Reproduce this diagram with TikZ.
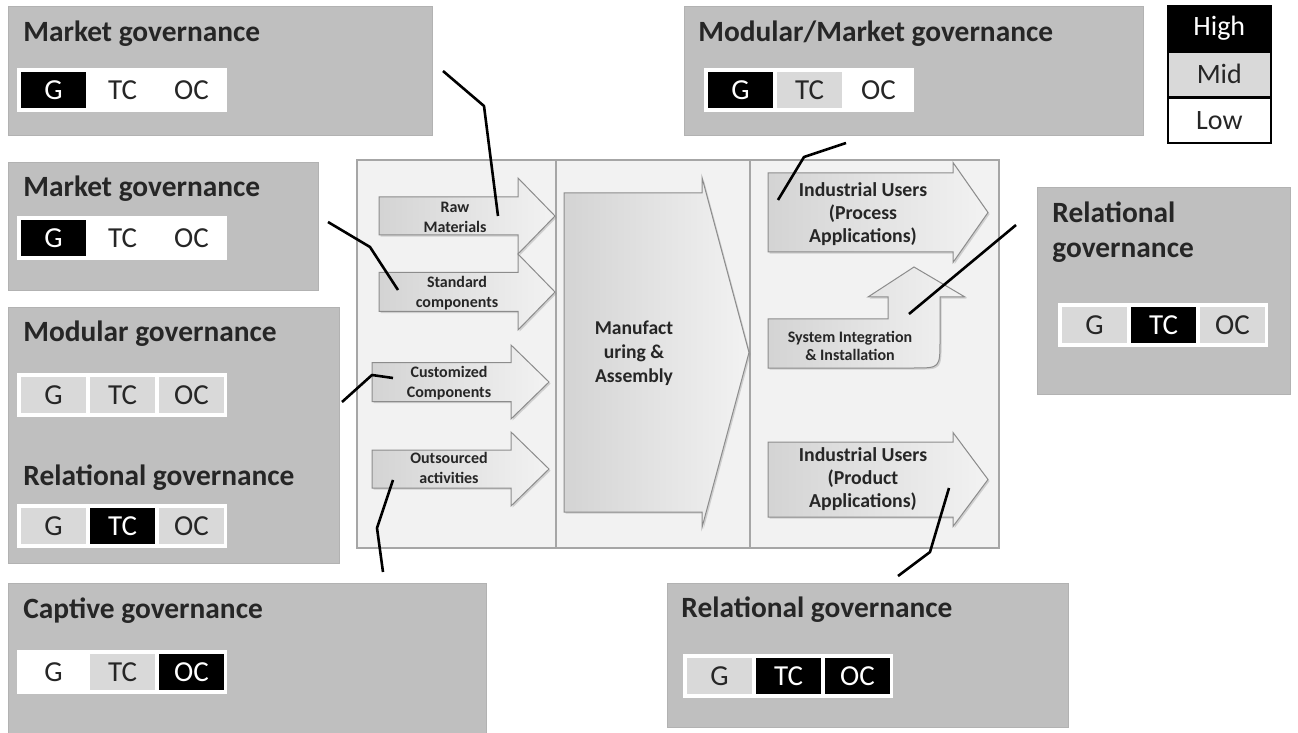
\documentclass[tikz,border=0pt]{standalone}
\usepackage{fontspec}
\setmainfont{Carlito}
\usepackage{tikz}
\usetikzlibrary{positioning, shadows}

\definecolor{boxgray}{RGB}{191,191,191}
\definecolor{midgray}{RGB}{217,217,217}
\definecolor{panelgray}{RGB}{242,242,242}

\tikzstyle{govbox} = [rectangle, anchor=north west, inner sep=0pt, fill=boxgray, draw=black!30, line width=0.4pt]
\tikzstyle{govtitle} = [anchor=base west, inner sep=0pt, text=black!85, font=\fontsize{14.7}{17.5}\selectfont\bfseries]
\tikzstyle{govcell} = [rectangle, minimum width=32.5pt, minimum height=18pt, inner sep=0pt, font=\fontsize{14.5}{17}\selectfont]
\tikzstyle{lvlhigh} = [fill=black, text=white]
\tikzstyle{lvlmid} = [fill=midgray, text=black!85]
\tikzstyle{lvllow} = [fill=white, text=black!85]
\tikzstyle{keybox} = [rectangle, draw=black, line width=0.8pt, minimum width=51.5pt, minimum height=22.3pt, inner sep=0pt, font=\fontsize{14}{17}\selectfont]
\tikzstyle{panel} = [fill=panelgray, draw=black!35, line width=0.6pt]
\tikzstyle{flow} = [draw=black!45, line width=0.5pt, left color=black!17, right color=black!5, drop shadow={opacity=0.3, shadow xshift=0.8pt, shadow yshift=-0.8pt}]
\tikzstyle{flowtext} = [align=center, inner sep=0pt, text=black!85, font=\fontsize{8}{10}\selectfont\bfseries]
\tikzstyle{link} = [line width=1.3pt, black, line join=round]

% G / TC / OC strip: prefix, x, y, levels
\newcommand{\govstrip}[6]{%
  \fill[white] (#2,#3) rectangle ++(210,44);
  \node[govcell,#4] (#1g) at ({#2+36.5},{#3+22}) {G};
  \node[govcell,#5] (#1tc) at ({#2+105.5},{#3+22}) {TC};
  \node[govcell,#6] (#1oc) at ({#2+174.5},{#3+22}) {OC};
}
% block arrow: left, centre y, head start, tip, body half, head half
\newcommand{\flowarrow}[6]{%
  \draw[flow] (#1,{#2-#5}) -- (#3,{#2-#5}) -- (#3,{#2-#6}) -- (#4,#2)
    -- (#3,{#2+#6}) -- (#3,{#2+#5}) -- (#1,{#2+#5}) -- cycle;
}

\begin{document}
\begin{tikzpicture}[x=0.5pt, y=-0.5pt]
\useasboundingbox (0,0) rectangle (1298,733);

% Governance boxes
\node[govbox, minimum width=212pt, minimum height=64.5pt] (mk1) at (8,6) {};
\node[govbox, minimum width=155pt, minimum height=64pt] (mk2) at (8,162) {};
\node[govbox, minimum width=165.5pt, minimum height=128pt] (modrel) at (8,307) {};
\node[govbox, minimum width=239pt, minimum height=75pt] (capt) at (8,583) {};
\node[govbox, minimum width=229.5pt, minimum height=64.5pt] (modmk) at (684,6) {};
\node[govbox, minimum width=126.5pt, minimum height=103.5pt] (rel1) at (1037,187) {};
\node[govbox, minimum width=200.5pt, minimum height=72pt] (rel2) at (667,583) {};

% Titles
\node[govtitle] (mk1t) at (23,42) {Market governance};
\node[govtitle] (mk2t) at (23,197) {Market governance};
\node[govtitle] (modt) at (23,342) {Modular governance};
\node[govtitle] (relt) at (23,485) {Relational governance};
\node[govtitle] (captt) at (23,618) {Captive governance};
\node[govtitle] (modmkt) at (698,42) {Modular/Market governance};
\node[govtitle, anchor=north west, align=left] (rel1t) at (1052,201) {Relational\\governance};
\node[govtitle] (rel2t) at (681,617) {Relational governance};

% Strips
\govstrip{mk1}{17}{68}{lvlhigh}{lvllow}{lvllow}
\govstrip{mk2}{17}{216}{lvlhigh}{lvllow}{lvllow}
\govstrip{mod}{17}{373}{lvlmid}{lvlmid}{lvlmid}
\govstrip{rel}{17}{504}{lvlmid}{lvlhigh}{lvlmid}
\govstrip{capt}{17}{650}{lvllow}{lvlmid}{lvlhigh}
\govstrip{modmk}{704}{68}{lvlhigh}{lvlmid}{lvllow}
\govstrip{relo}{1058}{303}{lvlmid}{lvlhigh}{lvlmid}
\govstrip{relt}{683}{654}{lvlmid}{lvlhigh}{lvlhigh}

% Legend
\node[keybox, lvlhigh, anchor=north west] (high) at (1167,5) {High};
\node[keybox, lvlmid, below=0pt of high] (mid) {Mid};
\node[keybox, lvllow, below=0pt of mid] (low) {Low};

% Value chain panel
\draw[panel] (357,160) rectangle (999,548);
\draw[panel] (556,160) -- (556,548);
\draw[panel] (750,160) -- (750,548);

% Inputs
\flowarrow{379}{216}{518}{555}{19}{38}
\flowarrow{379}{292}{518}{555}{19.5}{38}
\flowarrow{372}{382}{511}{549}{19.5}{37}
\flowarrow{372}{469}{511}{549}{19}{37}
\node[flowtext] (raw) at (455,217) {Raw\\Materials};
\node[flowtext] (std) at (457,293) {Standard\\components};
\node[flowtext] (cust) at (449,383) {Customized\\Components};
\node[flowtext] (outs) at (449,468) {Outsourced\\activities};

% Manufacturing
\flowarrow{564}{352.5}{702}{749}{159.5}{175}
\node[flowtext, font=\fontsize{9.8}{12}\selectfont\bfseries] (manuf) at (634,353) {Manufact\\uring \&\\Assembly};

% Users
\flowarrow{768}{212.5}{953}{988}{39.5}{50}
\flowarrow{768}{479.5}{953}{988}{37.5}{47}
\draw[flow] (768,319) -- (888,319) -- (888,297) -- (868,297) -- (914,267) -- (965,297)
  -- (940,297) -- (940,340) .. controls (940,368) .. (914,368) -- (768,368) -- cycle;
\node[flowtext, font=\fontsize{9.9}{11.5}\selectfont\bfseries] (proc) at (863,214) {Industrial Users\\(Process\\Applications)};
\node[flowtext, font=\fontsize{9.9}{11.5}\selectfont\bfseries] (prod) at (863,479) {Industrial Users\\(Product\\Applications)};
\node[flowtext, font=\fontsize{8}{9}\selectfont\bfseries] (sysint) at (850,346) {System Integration\\\& Installation};

% Connectors
\coordinate (mk1end) at (443,71);
\coordinate (rawpin) at (498,216);
\coordinate (mk2end) at (328,222);
\coordinate (stdpin) at (398,290);
\coordinate (modend) at (342,402);
\coordinate (custpin) at (393,378);
\coordinate (captend) at (383,572);
\coordinate (outspin) at (393,480);
\coordinate (modmkend) at (846,143);
\coordinate (procpin) at (778,200);
\coordinate (rel1end) at (1016,225);
\coordinate (syspin) at (909,314);
\coordinate (rel2end) at (898,576);
\coordinate (prodpin) at (949,488);

\draw[link] (mk1end) -- (484,106) -- (rawpin);
\draw[link] (mk2end) -- (370,247) -- (stdpin);
\draw[link] (modend) -- (372,375) -- (custpin);
\draw[link] (captend) -- (377,528) -- (outspin);
\draw[link] (modmkend) -- (804,157) -- (procpin);
\draw[link] (rel1end) -- (syspin);
\draw[link] (prodpin) -- (930,552) -- (rel2end);

\end{tikzpicture}
\end{document}
